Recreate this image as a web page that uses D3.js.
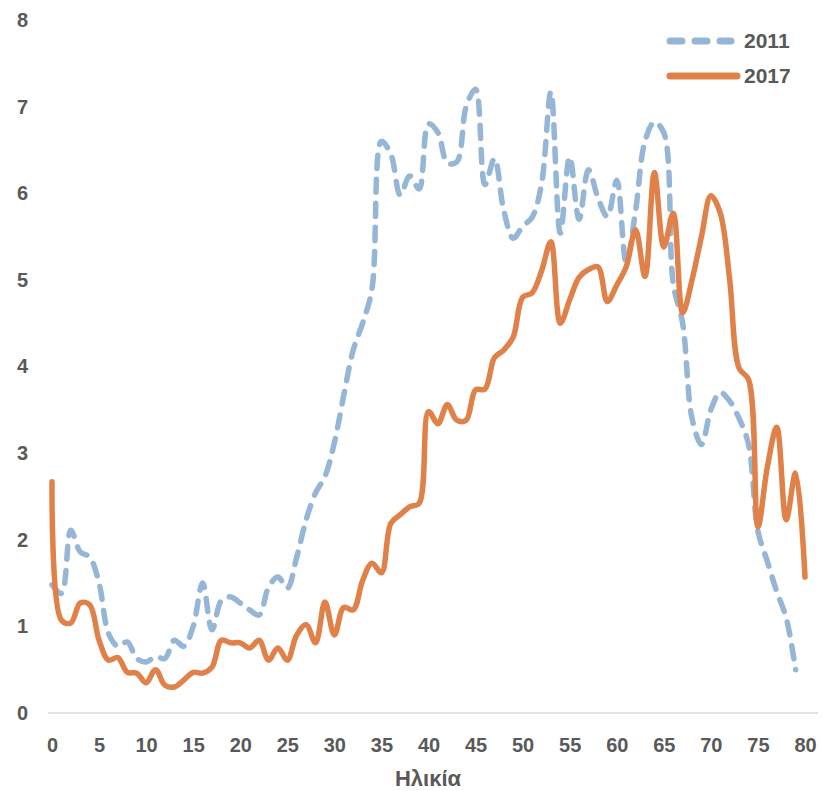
<!DOCTYPE html>
<html>
<head>
<meta charset="utf-8">
<script src="https://cdn.jsdelivr.net/npm/d3@7"></script>
<style>
  body { margin: 0; background: #fff; }
  text { font-family: "Liberation Sans Narrow", "Liberation Sans", sans-serif; font-weight: bold; fill: #595959; }
</style>
</head>
<body>
<div id="chart"></div>
<script>
// Ages and the two series
var ages2011 = d3.range(0, 80);
var ages2017 = d3.range(0, 81);

var values2011 = [1.48, 1.38, 2.11, 1.86, 1.8, 1.5, 0.92, 0.77, 0.82, 0.63,
  0.59, 0.65, 0.63, 0.84, 0.77, 1.0, 1.5, 0.96, 1.3, 1.34,
  1.27, 1.19, 1.13, 1.45, 1.57, 1.44, 1.8, 2.23, 2.54, 2.73,
  3.12, 3.67, 4.19, 4.5, 4.9, 6.6, 6.45, 5.98, 6.2, 6.05,
  6.8, 6.7, 6.35, 6.36, 7.0, 7.2, 6.1, 6.4, 5.8, 5.48,
  5.62, 5.72, 6.1, 7.17, 5.54, 6.42, 5.7, 6.27, 5.95, 5.73,
  6.15, 5.2, 5.8, 6.6, 6.82, 6.7, 4.96, 4.5, 3.4, 3.1,
  3.5, 3.7, 3.6, 3.4, 3.1, 2.1, 1.75, 1.4, 1.1, 0.5];

var values2017 = [2.67, 1.07, 1.04, 1.27, 1.25, 0.84, 0.61, 0.64, 0.47, 0.46,
  0.35, 0.5, 0.32, 0.3, 0.38, 0.47, 0.46, 0.53, 0.84, 0.81,
  0.81, 0.75, 0.84, 0.61, 0.75, 0.61, 0.9, 1.02, 0.81, 1.28,
  0.9, 1.22, 1.19, 1.53, 1.73, 1.62, 2.19, 2.29, 2.38, 2.42,
  3.48, 3.34, 3.56, 3.38, 3.38, 3.73, 3.74, 4.1, 4.19, 4.34,
  4.8, 4.85, 5.1, 5.44, 4.5, 4.77, 5.03, 5.12, 5.15, 4.75,
  4.94, 5.15, 5.58, 5.04, 6.24, 5.38, 5.77, 4.62, 5.0, 5.5,
  5.97, 5.77, 5.0, 3.98, 3.85, 2.15, 2.84, 3.3, 2.23, 2.77, 1.57];

var xTicks = d3.range(0, 81, 5);
var yTicks = d3.range(0, 9, 1);

var svgWidth = 823;
var svgHeight = 791;

var svg = d3.select("#chart")
  .append("svg")
  .attr("width", svgWidth)
  .attr("height", svgHeight);

var xScale = d3.scaleLinear().domain([0, 80]).range([52, 805]);
var yScale = d3.scaleLinear().domain([0, 8]).range([713, 20]);

// baseline
svg.append("line")
  .attr("x1", 48).attr("x2", 818)
  .attr("y1", yScale(0)).attr("y2", yScale(0))
  .attr("stroke", "#d9d9d9")
  .attr("stroke-width", 1.5);

// y axis labels
var leftAxis = d3.axisLeft(yScale).tickValues(yTicks).tickSize(0).tickPadding(0);
var gy = svg.append("g")
  .attr("transform", "translate(28,0)")
  .call(leftAxis);
gy.select(".domain").remove();
gy.selectAll("text").style("font-size", "20px").attr("fill", "#595959");

// x axis labels
var bottomAxis = d3.axisBottom(xScale).tickValues(xTicks).tickSize(0).tickPadding(0);
var gx = svg.append("g")
  .attr("transform", "translate(0,738)")
  .call(bottomAxis);
gx.select(".domain").remove();
gx.selectAll("text").style("font-size", "20px").attr("fill", "#595959");

svg.append("text")
  .attr("x", 428)
  .attr("y", 786)
  .attr("text-anchor", "middle")
  .style("font-size", "22px")
  .text("Ηλικία");

var line = d3.line()
  .x(d => xScale(d[0]))
  .y(d => yScale(d[1]))
  .curve(d3.curveCatmullRom.alpha(0.5));

svg.append("path")
  .datum(d3.zip(ages2011, values2011))
  .attr("d", line)
  .attr("fill", "none")
  .attr("stroke", "#95b6d6")
  .attr("stroke-width", 5.5)
  .attr("stroke-linecap", "round")
  .attr("stroke-linejoin", "round")
  .attr("stroke-dasharray", "13,11");

svg.append("path")
  .datum(d3.zip(ages2017, values2017))
  .attr("d", line)
  .attr("fill", "none")
  .attr("stroke", "#e0814a")
  .attr("stroke-width", 5.5)
  .attr("stroke-linecap", "round")
  .attr("stroke-linejoin", "round");

// legend
var legend = svg.append("g");
legend.append("line")
  .attr("x1", 670).attr("x2", 731).attr("y1", 41).attr("y2", 41)
  .attr("stroke", "#95b6d6").attr("stroke-width", 7)
  .attr("stroke-linecap", "round").attr("stroke-dasharray", "12,13");
legend.append("text").attr("x", 744).attr("y", 48).style("font-size", "21px").text("2011");
legend.append("line")
  .attr("x1", 670).attr("x2", 737).attr("y1", 76).attr("y2", 76)
  .attr("stroke", "#e0814a").attr("stroke-width", 7)
  .attr("stroke-linecap", "round");
legend.append("text").attr("x", 744).attr("y", 83).style("font-size", "21px").text("2017");
</script>
</body>
</html>
